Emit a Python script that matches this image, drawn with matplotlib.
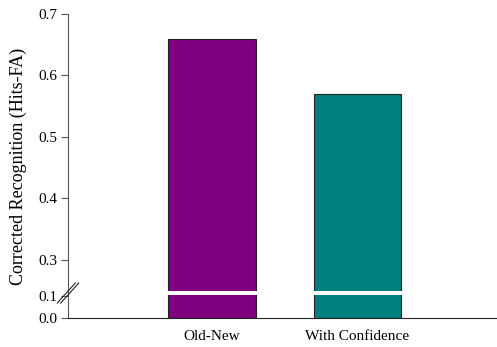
import numpy as np
import matplotlib
matplotlib.use("Agg")
import matplotlib.pyplot as plt

conditions = ["Old-New", "With Confidence"]
recognition = [0.66, 0.57]
bar_colors = ["#800080", "#008080"]
y_ticks = [0.0, 0.1, 0.3, 0.4, 0.5, 0.6, 0.7]

# piecewise axis: 0-0.1 compressed, 0.1-0.3 break, 0.3-0.7 full scale
data_knots = [0.0, 0.1, 0.3, 0.7]
scale_knots = [0.0, 0.0358, 0.0943, 0.4943]


def forward(v):
    return np.interp(v, data_knots, scale_knots)


def inverse(s):
    return np.interp(s, scale_knots, data_knots)


plt.rcParams["font.family"] = ["Liberation Serif", "DejaVu Serif"]
plt.rcParams["font.size"] = 11

fig = plt.figure(figsize=(4.97, 3.47), dpi=100)
ax = fig.add_axes([0.1368, 0.0836, 0.8632, 0.8761])
ax.set_yscale("function", functions=(forward, inverse))

x = np.arange(len(conditions))
ax.bar(x, recognition, width=0.6, color=bar_colors, edgecolor="#222222",
       linewidth=0.8, zorder=2)
# white band through the bars at the axis break
ax.bar(x, 0.024, bottom=0.105, width=0.63, color="white", linewidth=0, zorder=3)

ax.set_ylim(0, 0.7)
ax.set_xlim(-0.993, 1.965)
ax.set_yticks(y_ticks)
ax.set_yticklabels([f"{t:.1f}" for t in y_ticks])
ax.set_xticks(x)
ax.set_xticklabels(conditions)
ax.tick_params(axis="x", length=0, pad=9)
ax.tick_params(axis="y", length=5, width=0.8, color="#555555", pad=3)
ax.set_ylabel("Corrected Recognition (Hits-FA)", fontsize=13, labelpad=8)

for side in ("top", "right"):
    ax.spines[side].set_visible(False)
ax.spines["left"].set_color("#555555")
ax.spines["bottom"].set_color("#222222")

# break marks on the y axis
for dx in (0.0, 0.008):
    ax.plot([-0.025 + dx, 0.017 + dx], [0.049, 0.115], transform=ax.transAxes,
            color="#222222", linewidth=0.8, clip_on=False, zorder=4)

fig.savefig("out.png", dpi=100)
